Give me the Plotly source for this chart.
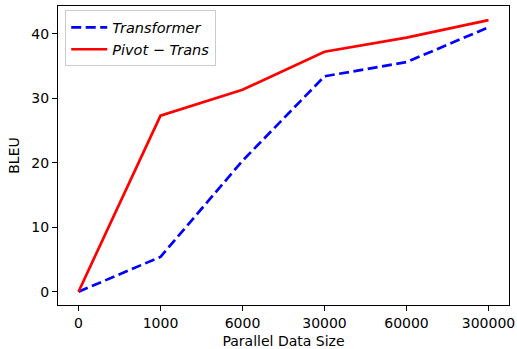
import plotly.graph_objects as go

sizes = ["0", "1000", "6000", "30000", "60000", "300000"]
transformer = [0.0, 5.4, 20.3, 33.4, 35.6, 41.0]
pivot_trans = [0.0, 27.3, 31.3, 37.2, 39.4, 42.1]

fig = go.Figure()
fig.add_trace(go.Scatter(x=sizes, y=transformer, mode="lines",
                         name="<i>Transformer</i>",
                         line=dict(color="#0000ff", width=2.7, dash="10px,4.5px")))
fig.add_trace(go.Scatter(x=sizes, y=pivot_trans, mode="lines",
                         name="<i>Pivot</i> − <i>Trans</i>",
                         line=dict(color="#ff0000", width=2.7)))

axis_common = dict(showline=True, linecolor="black", linewidth=1.1, mirror=True,
                   ticks="outside", ticklen=5, tickwidth=1.1, tickcolor="black",
                   showgrid=False, zeroline=False, automargin=False,
                   tickfont=dict(family="DejaVu Sans", size=14, color="black"))

fig.update_layout(
    width=517, height=349,
    margin=dict(l=58, r=8, t=6, b=44),
    paper_bgcolor="white", plot_bgcolor="white",
    font=dict(family="DejaVu Sans", size=14, color="black"),
    xaxis=dict(type="category", range=[-0.25, 5.25],
               title=dict(text="Parallel Data Size",
                          font=dict(family="DejaVu Sans", size=14)),
               **axis_common),
    yaxis=dict(range=[-2.06, 44.3], tickvals=[0, 10, 20, 30, 40],
               title=dict(text="BLEU", standoff=8,
                          font=dict(family="DejaVu Sans", size=14)),
               **axis_common),
    legend=dict(x=0.016, y=0.985, xanchor="left", yanchor="top",
                bordercolor="#cccccc", borderwidth=1, bgcolor="rgba(255,255,255,0.8)",
                font=dict(family="DejaVu Sans", size=14.5),
                tracegroupgap=0, itemwidth=36),
    showlegend=True,
)

fig.write_html("out.html", config={"displayModeBar": False},
               post_script="document.body.style.margin='0';")
